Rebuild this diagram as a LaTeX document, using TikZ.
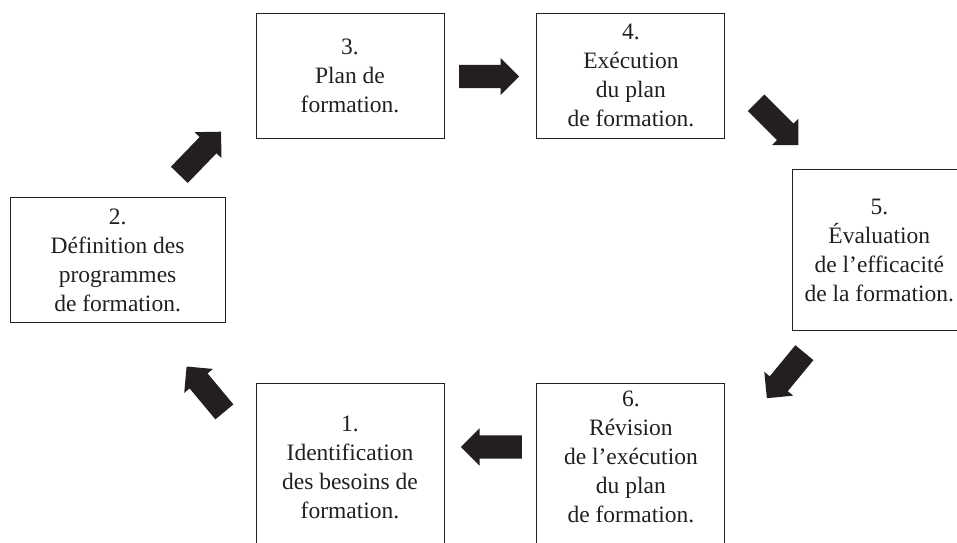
\documentclass[tikz,border=0pt]{standalone}
\usepackage{fontspec}
\setmainfont{Liberation Serif}
\usepackage{tikz}
\usetikzlibrary{positioning, shapes.arrows}
\definecolor{ink}{HTML}{231F20}

\begin{document}
\begin{tikzpicture}[x=1pt,y=-1pt,font=\fontsize{23.5}{29}\selectfont,
  stage/.style={draw=ink,line width=0.9pt,text=ink,align=center,inner sep=0pt,
    minimum width=188pt,minimum height=124.5pt},
  blk/.style={single arrow,fill=ink,anchor=tail,inner xsep=0pt,inner ysep=11.5pt,minimum height=60pt,
    single arrow head extend=7pt,single arrow head indent=0pt}]
  \useasboundingbox (0,0) rectangle (957,542);
  \clip (0,0) rectangle (957,542);
  % the six stages
  \node[stage] (b3) at (350,75.75) {3.\\ Plan de\\ formation.};
  \node[stage,right=92pt of b3] (b4) {4.\\ Exécution\\ du plan\\ de formation.};
  \node[stage,minimum width=173pt,minimum height=161pt,below right=31pt and 67pt of b4] (b5)
    {5.\\ Évaluation\\ de l’efficacité\\ de la formation.};
  \node[stage,minimum height=166pt,below=245pt of b3] (b1) {1.\\ Identification\\ des besoins de\\ formation.};
  \node[stage,minimum height=166pt,right=92pt of b1] (b6)
    {6.\\ Révision\\ de l’exécution\\ du plan\\ de formation.\rule[-20pt]{0pt}{20pt}};
  \node[stage,minimum width=215pt,below left=59pt and 30pt of b3] (b2)
    {2.\\ Définition des\\ programmes\\ de formation.};
  % block arrows round the cycle (placed by their tails)
  \node[blk,rotate=46] (a23) at (179.2,175) {};
  \node[blk] (a34) at (459,76.5) {};
  \node[blk,rotate=-45] (a45) at (755.9,102.6) {};
  \node[blk,rotate=230.5,minimum height=59pt] (a56) at (804.5,352.5) {};
  \node[blk,rotate=180,minimum height=61pt] (a61) at (522,447) {};
  \node[blk,rotate=129.8,minimum height=59pt] (a12) at (224.5,412) {};
\end{tikzpicture}
\end{document}
